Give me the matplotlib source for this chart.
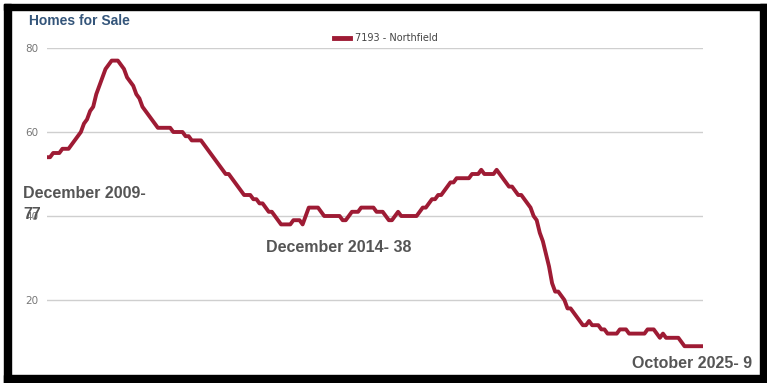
import matplotlib
matplotlib.use("Agg")
import matplotlib.pyplot as plt
import matplotlib.patches as mpatches
import pandas as pd

W, H = 767, 383
LINE_COLOR = "#9e1b34"
TEXT_GRAY = "#555555"

# monthly homes for sale, Jan 2008 .. Oct 2025
homes = [
    54, 54, 55, 55, 55, 56, 56, 56, 57, 58, 59, 60,   # 2008
    62, 63, 65, 66, 69, 71, 73, 75, 76, 77, 77, 77,   # 2009
    76, 75, 73, 72, 71, 69, 68, 66, 65, 64, 63, 62,   # 2010
    61, 61, 61, 61, 61, 60, 60, 60, 60, 59, 59, 58,   # 2011
    58, 58, 58, 57, 56, 55, 54, 53, 52, 51, 50, 50,   # 2012
    49, 48, 47, 46, 45, 45, 45, 44, 44, 43, 43, 42,   # 2013
    41, 41, 40, 39, 38, 38, 38, 38, 39, 39, 39, 38,   # 2014
    40, 42, 42, 42, 42, 41, 40, 40, 40, 40, 40, 40,   # 2015
    39, 39, 40, 41, 41, 41, 42, 42, 42, 42, 42, 41,   # 2016
    41, 41, 40, 39, 39, 40, 41, 40, 40, 40, 40, 40,   # 2017
    40, 41, 42, 42, 43, 44, 44, 45, 45, 46, 47, 48,   # 2018
    48, 49, 49, 49, 49, 49, 50, 50, 50, 51, 50, 50,   # 2019
    50, 50, 51, 50, 49, 48, 47, 47, 46, 45, 45, 44,   # 2020
    43, 42, 40, 39, 36, 34, 31, 28, 24, 22, 22, 21,   # 2021
    20, 18, 18, 17, 16, 15, 14, 14, 15, 14, 14, 14,   # 2022
    13, 13, 12, 12, 12, 12, 13, 13, 13, 12, 12, 12,   # 2023
    12, 12, 12, 13, 13, 13, 12, 11, 12, 11, 11, 11,   # 2024
    11, 11, 10, 9, 9, 9, 9, 9, 9, 9,                  # 2025
]
months = pd.date_range("2008-01-01", periods=len(homes), freq="MS")
y_ticks = [20, 40, 60, 80]
series_name = "7193 - Northfield"
notes = [
    ("December 2009-\n77", 23, 204),
    ("December 2014- 38", 266, 247),
    ("October 2025- 9", 632, 363),
]

fig = plt.figure(figsize=(W / 100, H / 100), dpi=100, facecolor="white")

# plot area (pixel box of the gridlines)
x0, x1, ytop = 47, 703, 48
ax = fig.add_axes([x0 / W, 0, (x1 - x0) / W, (H - ytop) / H])
ax.set_xlim(0, len(homes) - 1)
ax.set_ylim(80 - (H - ytop) / 4.2, 80)
for v in y_ticks:
    ax.axhline(v, color="#cfcfcf", linewidth=1.0, zorder=1)
ax.plot(range(len(homes)), homes, color=LINE_COLOR, linewidth=2.8,
        solid_joinstyle="round", zorder=3, label=series_name)

ax.set_yticks(y_ticks)
ax.set_xticks([])
ax.tick_params(axis="y", length=0, pad=6, labelsize=7.5, labelcolor="#777777")
for s in ax.spines.values():
    s.set_visible(False)
ax.patch.set_alpha(0)

leg = ax.legend(loc="center", bbox_to_anchor=(386 / W, 1 - 38 / H),
                bbox_transform=fig.transFigure, frameon=False, fontsize=7,
                handlelength=1.6, handletextpad=0.5, borderpad=0)
for t in leg.get_texts():
    t.set_color("#444444")
for l in leg.get_lines():
    l.set_linewidth(3.5)

fig.text(29 / W, 1 - 21 / H, "Homes for Sale", fontsize=10, fontweight="bold",
         color="#34557a", family="Liberation Sans", va="center", ha="left")

for txt, px, py in notes:
    fig.text(px / W, 1 - py / H, txt, fontsize=11.5, fontweight="bold",
             color=TEXT_GRAY, family="Liberation Sans", va="center", ha="left",
             linespacing=1.45, zorder=5)

# black frame round the screenshot
for (bx, by, bw, bh) in [(4, 4, 763, 6), (4, 4, 7, 379), (760, 4, 7, 379), (4, 375, 763, 8)]:
    fig.add_artist(mpatches.Rectangle((bx / W, 1 - (by + bh) / H), bw / W, bh / H,
                                      transform=fig.transFigure, color="black",
                                      zorder=10))

fig.savefig("out.png", dpi=100, facecolor="white")
